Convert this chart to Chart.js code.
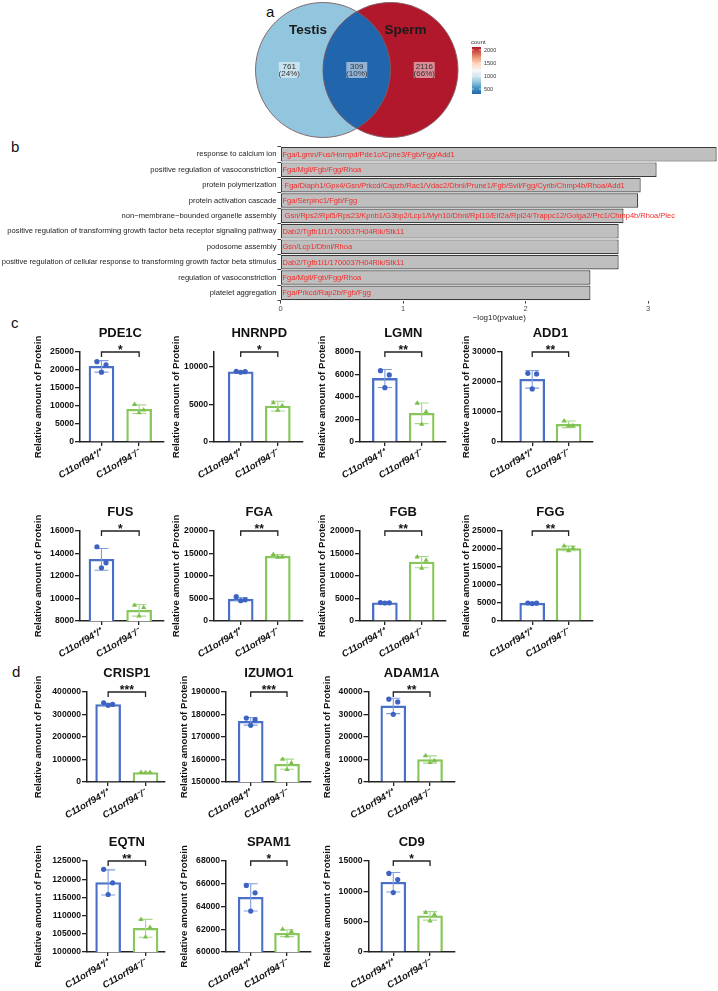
<!DOCTYPE html>
<html>
<head>
<meta charset="utf-8">
<script src="https://cdn.jsdelivr.net/npm/chart.js@4/dist/chart.umd.min.js"></script>
<style>
  body { margin: 0; width: 718px; height: 991px; overflow: hidden; background: #fff; position: relative;
         font-family: "Liberation Sans", Arial, sans-serif; }
  canvas { position: absolute; }
  .tag { position: absolute; font-size: 15px; color: #111; line-height: 1; }
</style>
</head>
<body>
<div class="tag" style="left:266px;top:4px">a</div>
<div class="tag" style="left:11px;top:139px">b</div>
<div class="tag" style="left:11px;top:315px">c</div>
<div class="tag" style="left:12px;top:664px">d</div>
<canvas id="venn" style="left:240px;top:0px" width="290" height="145"></canvas>
<canvas id="go" style="left:0px;top:140px" width="718" height="185"></canvas>

<script>
Chart.defaults.font.family = '"Liberation Sans", Arial, sans-serif';

// ---- panel a: venn counts
const vennSets = ["Testis", "Sperm"];
const vennCounts = [761, 309, 2116];          // testis only, shared, sperm only
const vennPercents = ["24%", "10%", "66%"];
const legendTicks = [500, 1000, 1500, 2000];

// ---- panel b: GO terms
const goTerms = [
  "response to calcium ion",
  "positive regulation of vasoconstriction",
  "protein polymerization",
  "protein activation cascade",
  "non\u2212membrane\u2212bounded organelle assembly",
  "positive regulation of transforming growth factor beta receptor signaling pathway",
  "podosome assembly",
  "positive regulation of cellular response to transforming growth factor beta stimulus",
  "regulation of vasoconstriction",
  "platelet aggregation"
];
const goScores = [3.56, 3.07, 2.94, 2.92, 2.80, 2.76, 2.76, 2.76, 2.53, 2.53];
const goGenes = [
  "Fga/Lgmn/Fus/Hnrnpd/Pde1c/Cpne3/Fgb/Fgg/Add1",
  "Fga/Mgll/Fgb/Fgg/Rhoa",
  " Fga/Diaph1/Gpx4/Gsn/Prkcd/Capzb/Rac1/Vdac2/Dbnl/Prune1/Fgb/Svil/Fgg/Cyrib/Chmp4b/Rhoa/Add1",
  "Fga/Serpinc1/Fgb/Fgg",
  " Gsn/Rps2/Rpl5/Rps23/Kpnb1/G3bp2/Lcp1/Myh10/Dbnl/Rpl10/Eif2a/Rpl24/Trappc12/Golga2/Prc1/Chmp4b/Rhoa/Plec",
  "Dab2/Tgfb1i1/1700037H04Rik/Stk11",
  "Gsn/Lcp1/Dbnl/Rhoa",
  "Dab2/Tgfb1i1/1700037H04Rik/Stk11",
  "Fga/Mgll/Fgb/Fgg/Rhoa",
  "Fga/Prkcd/Rap2b/Fgb/Fgg"
];
const goTicks = [0, 1, 2, 3];

// ---- panels c, d: protein amounts
const groups = ["C11orf94\u207A/\u207A", "C11orf94\u207B/\u207B"];
const proteins = ["PDE1C", "HNRNPD", "LGMN", "ADD1", "FUS", "FGA", "FGB", "FGG",
                  "CRISP1", "IZUMO1", "ADAM1A", "EQTN", "SPAM1", "CD9"];
const wtMean = [21000, 9350, 5650, 20900, 13480, 4850, 4050, 4950, 344500, 177000, 33800, 119100, 64800, 11500];
const wtSd   = [1600, 70, 800, 2950, 970, 350, 80, 100, 5500, 1700, 3400, 3450, 1200, 1600];
const koMean = [9100, 4780, 2550, 5900, 8950, 14400, 13100, 20150, 41800, 157900, 10000, 106500, 61650, 5950];
const koSd   = [1200, 650, 920, 1100, 520, 350, 1250, 650, 800, 2250, 1600, 2450, 300, 700];
const wtPoints = [
  [22300, 21400, 19400], [9420, 9380, 9300], [6340, 5960, 4830], [22900, 22700, 17700],
  [14600, 13170, 12730], [5400, 4700, 4500], [4100, 4050, 4000], [5000, 4950, 4850],
  [352000, 345000, 341000], [178400, 177700, 175200], [36800, 35600, 30100],
  [122700, 119000, 115800], [65850, 65200, 63600], [12950, 11950, 9800]
];
const koPoints = [
  [10400, 8900, 8100], [5250, 4850, 4230], [3440, 2700, 1570], [7000, 5400, 5300],
  [9400, 9200, 8450], [14800, 14250, 14150], [14200, 13500, 11700], [20800, 20250, 19500],
  [42500, 42000, 41000], [160100, 158400, 155600], [11700, 9400, 8700],
  [108900, 106700, 104100], [62000, 61800, 61400], [6500, 6200, 5100]
];
const significance = ["*", "*", "**", "**", "*", "**", "**", "**", "***", "***", "**", "**", "*", "*"];
const yMin = [0, 0, 0, 0, 8000, 0, 0, 0, 0, 150000, 0, 100000, 60000, 0];
const yMax = [25000, 12000, 8000, 30000, 16000, 20000, 20000, 25000, 400000, 190000, 40000, 125000, 68000, 15000];
const yTicks = [
  [0, 5000, 10000, 15000, 20000, 25000], [0, 5000, 10000], [0, 2000, 4000, 6000, 8000],
  [0, 10000, 20000, 30000], [8000, 10000, 12000, 14000, 16000], [0, 5000, 10000, 15000, 20000],
  [0, 5000, 10000, 15000, 20000], [0, 5000, 10000, 15000, 20000, 25000],
  [0, 100000, 200000, 300000, 400000], [150000, 160000, 170000, 180000, 190000],
  [0, 10000, 20000, 30000, 40000], [100000, 105000, 110000, 115000, 120000, 125000],
  [60000, 62000, 64000, 66000, 68000], [0, 5000, 10000, 15000]
];

// ---- layout (pixels) for the small charts
const rows = [{ top: 352, bottom: 442 }, { top: 531, bottom: 621 }, { top: 692, bottom: 782 }, { top: 861, bottom: 952 }];
const cCols = [
  { titleX: 39, axisX: 80, right: 168, xMin: -0.57, xMax: 1.66 },
  { titleX: 177, axisX: 214, right: 307, xMin: -0.72, xMax: 1.68 },
  { titleX: 323, axisX: 360, right: 450, xMin: -0.675, xMax: 1.66 },
  { titleX: 467, axisX: 502, right: 597, xMin: -0.83, xMax: 1.67 }
];
const dCols = [
  { titleX: 39, axisX: 87, right: 169, xMin: -0.565, xMax: 1.52 },
  { titleX: 185, axisX: 226, right: 315, xMin: -0.68, xMax: 1.66 },
  { titleX: 328, axisX: 368.5, right: 459, xMin: -0.675, xMax: 1.68 }
];
const jitter = [-0.12, 0.12, 0];

const blue = "#4a6fc7", green = "#86c65a";
const blueDot = "#3e62c2", greenDot = "#7cbf4c";
const blueErr = "#7f9ddc", greenErr = "#a9d68c";

// RdBu-like scale for the venn fill
const rdbu = ["#2166ac", "#4393c3", "#92c5de", "#d1e5f0", "#f7f7f7", "#fddbc7", "#f4a582", "#d6604d", "#b2182b"];
const countLo = Math.min(...vennCounts), countHi = Math.max(...vennCounts);
function hexRgb(h) { return [1, 3, 5].map(k => parseInt(h.slice(k, k + 2), 16)); }
function countColor(v) {
  const t = Math.max(0, Math.min(1, (v - countLo) / (countHi - countLo))) * (rdbu.length - 1);
  const k = Math.min(Math.floor(t), rdbu.length - 2);
  const f = t - k;
  const a = hexRgb(rdbu[k]), b = hexRgb(rdbu[k + 1]);
  const c = a.map((x, j) => Math.round(x + (b[j] - x) * f));
  return `rgb(${c[0]},${c[1]},${c[2]})`;
}

// ---- panel a
const vennGeom = { r: 67.5, centers: [[83, 70], [150.5, 70]], bar: { x: 232, y: 47, w: 9, h: 47 } };

const vennPlugin = {
  id: "venn",
  afterDraw(chart) {
    const { ctx, scales: { x, y } } = chart;
    const r = x.getPixelForValue(vennGeom.r) - x.getPixelForValue(0);
    const c = vennGeom.centers.map(p => [x.getPixelForValue(p[0]), y.getPixelForValue(p[1])]);
    const circle = p => { ctx.beginPath(); ctx.arc(p[0], p[1], r, 0, Math.PI * 2); };

    ctx.save();
    ctx.fillStyle = countColor(vennCounts[0]); circle(c[0]); ctx.fill();
    ctx.fillStyle = countColor(vennCounts[2]); circle(c[1]); ctx.fill();
    ctx.save();
    circle(c[0]); ctx.clip();
    ctx.fillStyle = countColor(vennCounts[1]); circle(c[1]); ctx.fill();
    ctx.restore();
    ctx.strokeStyle = "#7d5c60"; ctx.lineWidth = 0.9;
    circle(c[0]); ctx.stroke(); circle(c[1]); ctx.stroke();

    // set names
    ctx.font = "bold 13.5px 'Liberation Sans', Arial";
    ctx.fillStyle = "#1b1b1b"; ctx.textAlign = "center"; ctx.textBaseline = "middle";
    ctx.fillText(vennSets[0], c[0][0] - 15, c[0][1] - 40);
    ctx.fillText(vennSets[1], c[1][0] + 15, c[1][1] - 40);

    // region labels
    const xs = [(c[0][0] - r + c[1][0] - r) / 2, (c[1][0] - r + c[0][0] + r) / 2, (c[0][0] + r + c[1][0] + r) / 2];
    ctx.font = "8px 'Liberation Sans', Arial";
    xs.forEach((lx, k) => {
      ctx.fillStyle = "rgba(255,255,255,0.5)";
      ctx.fillRect(lx - 10.5, c[0][1] - 8, 21, 16);
      ctx.fillStyle = "#333";
      ctx.fillText(String(vennCounts[k]), lx, c[0][1] - 3.5);
      ctx.fillText("(" + vennPercents[k] + ")", lx, c[0][1] + 4);
    });

    // colour legend
    const b = vennGeom.bar;
    const bx = x.getPixelForValue(b.x), by = y.getPixelForValue(b.y);
    const grad = ctx.createLinearGradient(0, by + b.h, 0, by);
    rdbu.forEach((col, k) => grad.addColorStop(k / (rdbu.length - 1), col));
    ctx.fillStyle = grad;
    ctx.fillRect(bx, by, b.w, b.h);
    ctx.fillStyle = "#333"; ctx.textAlign = "left";
    ctx.font = "6px 'Liberation Sans', Arial";
    ctx.fillText("count", bx - 1, by - 5);
    ctx.font = "5.5px 'Liberation Sans', Arial";
    legendTicks.forEach(v => {
      const ty = by + b.h - (v - countLo) / (countHi - countLo) * b.h;
      ctx.fillStyle = "#fff";
      ctx.fillRect(bx, ty - 0.3, 2, 0.6); ctx.fillRect(bx + b.w - 2, ty - 0.3, 2, 0.6);
      ctx.fillStyle = "#333";
      ctx.fillText(String(v), bx + b.w + 3, ty);
    });
    ctx.restore();
  }
};

new Chart(document.getElementById("venn"), {
  type: "scatter",
  data: { datasets: [{ data: [] }] },
  options: {
    responsive: false, animation: false,
    layout: { padding: 0 },
    plugins: { legend: { display: false }, tooltip: { enabled: false } },
    scales: {
      x: { display: false, min: 0, max: 290 },
      y: { display: false, min: 0, max: 145, reverse: true }
    }
  },
  plugins: [vennPlugin]
});

// ---- panel b
const geneLabels = {
  id: "geneLabels",
  afterDatasetsDraw(chart) {
    const { ctx, scales: { x } } = chart;
    const meta = chart.getDatasetMeta(0);
    ctx.save();
    ctx.font = "7.5px 'Liberation Sans', Arial";
    ctx.fillStyle = "#f42a2a"; ctx.textAlign = "left"; ctx.textBaseline = "middle";
    meta.data.forEach((bar, i) => ctx.fillText(goGenes[i], x.getPixelForValue(0) + 2, bar.y + 0.5));
    ctx.restore();
  }
};

new Chart(document.getElementById("go"), {
  type: "bar",
  data: {
    labels: goTerms,
    datasets: [{
      data: goScores, backgroundColor: "#bfbfbf", borderColor: "#3b3b3b", borderWidth: 1.2,
      borderSkipped: false, barPercentage: 0.95, categoryPercentage: 1
    }]
  },
  options: {
    indexAxis: "y", responsive: false, animation: false,
    layout: { padding: { top: 6.6, right: 0, left: 0, bottom: 0 } },
    plugins: { legend: { display: false }, tooltip: { enabled: false } },
    scales: {
      x: {
        min: 0, max: 3.571,
        afterBuildTicks: s => { s.ticks = goTicks.map(v => ({ value: v })); },
        afterFit: s => { s.height = 24.4; },
        grid: { drawOnChartArea: false, tickLength: 3, color: "#444" },
        border: { display: false },
        ticks: { font: { size: 7.5 }, color: "#4d4d4d", padding: 1 },
        title: { display: true, text: "\u2212log10(pvalue)", font: { size: 8 }, color: "#222", padding: { top: 0, bottom: 2 } }
      },
      y: {
        afterFit: s => { s.width = 280.5; },
        grid: { drawOnChartArea: false, tickLength: 3, color: "#444" },
        border: { display: false },
        ticks: { font: { size: 7.6 }, color: "#222", padding: 1, autoSkip: false }
      }
    }
  },
  plugins: [geneLabels]
});

// ---- panels c, d
function chartPos(i) {
  if (i < 8) return { row: Math.floor(i / 4), ...cCols[i % 4] };
  const k = i - 8;
  return { row: 2 + Math.floor(k / 3), ...dCols[k % 3] };
}

function makeProteinChart(i) {
  const pos = chartPos(i);
  const row = rows[pos.row];
  const left = Math.round(pos.titleX - 6);
  const top = row.top - 26;
  const xAxisH = 45;
  const width = Math.round(pos.right - left);
  const height = 26 + (row.bottom - row.top) + xAxisH;
  const yWidth = pos.axisX - left;

  const canvas = document.createElement("canvas");
  canvas.width = width; canvas.height = height;
  canvas.style.left = left + "px"; canvas.style.top = top + "px";
  canvas.style.width = width + "px"; canvas.style.height = height + "px";
  document.body.appendChild(canvas);

  const extras = {
    id: "extras" + i,
    afterDatasetDraw(chart, args) {
      if (args.meta.type !== "bar") return;
      const { ctx, scales: { x, y } } = chart;
      ctx.save();
      ctx.lineWidth = 1.1;
      [[wtMean[i], wtSd[i], blueErr], [koMean[i], koSd[i], greenErr]].forEach(([m, sd, col], g) => {
        const px = x.getPixelForValue(g);
        const y1 = y.getPixelForValue(m + sd), y2 = y.getPixelForValue(m - sd);
        ctx.strokeStyle = col;
        ctx.beginPath();
        ctx.moveTo(px, y1); ctx.lineTo(px, y2);
        ctx.moveTo(px - 7, y1); ctx.lineTo(px + 7, y1);
        ctx.moveTo(px - 7, y2); ctx.lineTo(px + 7, y2);
        ctx.stroke();
      });
      ctx.restore();
    },
    afterDraw(chart) {
      const { ctx, chartArea, scales: { x } } = chart;
      const x0 = x.getPixelForValue(0), x1 = x.getPixelForValue(1);
      const t = chartArea.top;
      const mid = (x0 + x1) / 2;
      ctx.save();
      ctx.strokeStyle = "#222"; ctx.lineWidth = 1.3;
      ctx.beginPath();
      ctx.moveTo(x0, t + 5); ctx.lineTo(x0, t); ctx.lineTo(x1, t); ctx.lineTo(x1, t + 5);
      ctx.stroke();
      ctx.fillStyle = "#111"; ctx.textAlign = "center";
      ctx.font = "bold 12px 'Liberation Sans', Arial";
      ctx.textBaseline = "alphabetic";
      ctx.fillText(significance[i], mid, t + 1.5);
      ctx.font = "bold 13px 'Liberation Sans', Arial";
      ctx.textBaseline = "middle";
      ctx.fillText(proteins[i], mid, t - 18.5);
      ctx.restore();
    }
  };

  new Chart(canvas, {
    type: "bar",
    data: {
      datasets: [
        {
          type: "scatter", order: 0,
          data: wtPoints[i].map((v, j) => ({ x: jitter[j], y: v })),
          pointStyle: "circle", pointRadius: 2.6, backgroundColor: blueDot, borderWidth: 0
        },
        {
          type: "scatter", order: 0,
          data: koPoints[i].map((v, j) => ({ x: 1 + jitter[j], y: v })),
          pointStyle: "triangle", pointRadius: 3, backgroundColor: greenDot, borderWidth: 0
        },
        {
          type: "bar", order: 1,
          data: [{ x: 0, y: [yMin[i], wtMean[i]] }, { x: 1, y: [yMin[i], koMean[i]] }],
          backgroundColor: "#fff", borderColor: [blue, green], borderWidth: 2.3,
          borderSkipped: "bottom", barThickness: 25
        }
      ]
    },
    options: {
      responsive: false, animation: false,
      layout: { padding: { top: 26, right: 0, left: 0, bottom: 0 } },
      plugins: { legend: { display: false }, tooltip: { enabled: false } },
      scales: {
        x: {
          type: "linear", min: pos.xMin, max: pos.xMax, offset: false,
          afterBuildTicks: s => { s.ticks = [{ value: 0 }, { value: 1 }]; },
          afterFit: s => { s.height = xAxisH; },
          grid: { display: true, offset: false, drawOnChartArea: false, tickLength: 4, color: "#222", lineWidth: 1.3 },
          border: { display: true, color: "#222", width: 1.5 },
          ticks: {
            callback: v => groups[v], minRotation: 30, maxRotation: 30, padding: 1,
            font: { weight: "bold", style: "italic", size: 9.5 }, color: "#111"
          }
        },
        y: {
          min: yMin[i], max: yMax[i],
          afterBuildTicks: s => { s.ticks = yTicks[i].map(v => ({ value: v })); },
          afterFit: s => { s.width = yWidth; },
          grid: { display: true, drawOnChartArea: false, tickLength: 5, color: "#222", lineWidth: 1.3 },
          border: { display: true, color: "#222", width: 1.5 },
          ticks: { callback: v => String(v), font: { weight: "bold", size: 8.6 }, color: "#111", padding: 1 },
          title: {
            display: true, text: "Relative amount of Protein",
            font: { weight: "bold", size: 9.7 }, color: "#111", padding: 0
          }
        }
      }
    },
    plugins: [extras]
  });
}

proteins.forEach((p, i) => makeProteinChart(i));
</script>
</body>
</html>
